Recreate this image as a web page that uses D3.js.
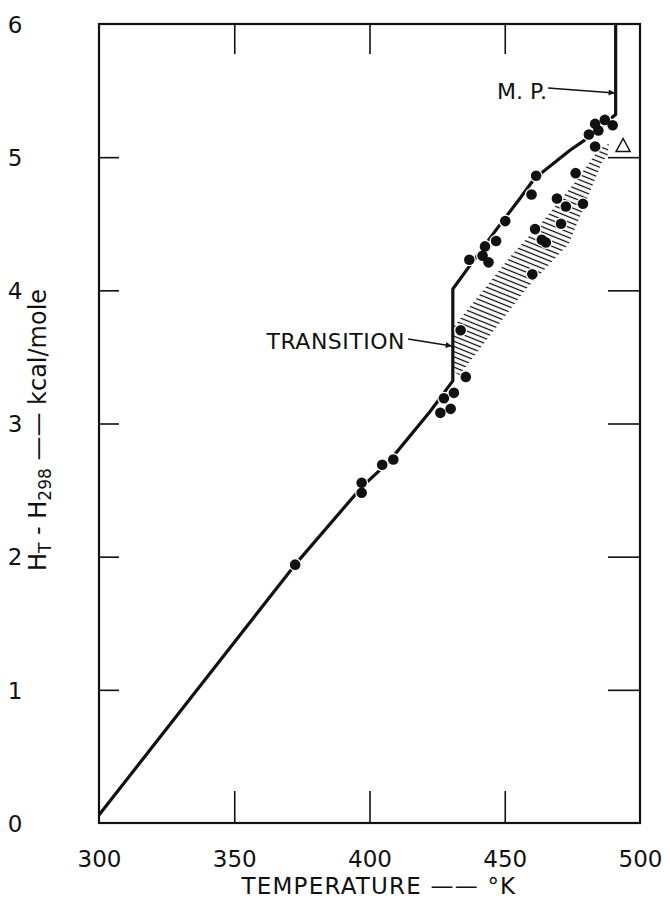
<!DOCTYPE html>
<html><head><meta charset="utf-8">
<script src="https://cdn.jsdelivr.net/npm/d3@7/dist/d3.min.js"></script>
<style>
body{margin:0;background:#fff;}
text{font-family:"DejaVu Sans",sans-serif;fill:#111;}
</style></head>
<body><svg id="c" width="670" height="903"></svg>
<script>
// ---- data ----
const xTicks = [300, 350, 400, 450, 500];
const yTicks = [0, 1, 2, 3, 4, 5, 6];
const pointT = [372.5, 397.1, 397.1, 404.7, 408.8, 426.2, 427.5, 430.0, 431.2, 435.6, 433.7,
  436.9, 441.8, 442.7, 444.0, 446.8, 450.2, 459.9, 461.6, 460.2, 461.2, 463.7, 465.2,
  470.8, 469.3, 472.6, 478.9, 476.2, 483.4, 481.1, 484.6, 483.4, 487.0, 489.9];
const pointH = [1.94, 2.555, 2.48, 2.69, 2.73, 3.08, 3.19, 3.11, 3.23, 3.35, 3.70,
  4.23, 4.26, 4.33, 4.21, 4.37, 4.52, 4.72, 4.86, 4.12, 4.46, 4.38, 4.36,
  4.50, 4.69, 4.63, 4.65, 4.88, 5.08, 5.17, 5.20, 5.25, 5.28, 5.24];
const curveT = [300, 372.5, 397, 407, 422.4, 430.8, 430.8, 436.9, 447, 455.6, 461, 474, 479, 491, 491];
const curveH = [0.06, 1.94, 2.52, 2.71, 3.09, 3.32, 4.01, 4.18, 4.46, 4.69, 4.84, 5.05, 5.12, 5.32, 6];
const hatchT = [430.9, 452.3, 464.9, 476.2, 484.8, 488.5, 488.0, 486.1, 473.7, 457.5, 433.1, 430.9];
const hatchH = [3.72, 4.26, 4.54, 4.82, 5.06, 5.10, 5.01, 4.97, 4.35, 4.00, 3.36, 3.40];
const triT = [490.8], triH = [5.08];

// ---- layout ----
const L = 99, R = 640, T = 24, B = 823;
const svg = d3.select("#c");
const x = d3.scaleLinear().domain([300, 500]).range([L, R]);
const y = d3.scaleLinear().domain([0, 6]).range([B, T]);

// hatch pattern
const defs = svg.append("defs");
const pat = defs.append("pattern").attr("id", "hatch").attr("patternUnits", "userSpaceOnUse")
  .attr("width", 10).attr("height", 4.8).attr("patternTransform", "rotate(22)");
pat.append("line").attr("x1", -1).attr("y1", 2.4).attr("x2", 11).attr("y2", 2.4)
  .attr("stroke", "#000").attr("stroke-width", 1.2);
const hatchPts = hatchT.map((t, i) => [x(t), y(hatchH[i])]);
svg.append("path").attr("d", d3.line()(hatchPts) + "Z").attr("fill", "url(#hatch)");

// axes (inner ticks)
function styleAxis(g) {
  g.selectAll("path.domain").remove();
  g.selectAll(".tick line").attr("stroke", "#111").attr("stroke-width", 1.6);
}
const gl = svg.append("g").attr("transform", `translate(${L},0)`)
  .call(d3.axisLeft(y).tickValues(yTicks).tickSize(-20).tickFormat(d3.format("d")));
styleAxis(gl);
gl.selectAll(".tick text").attr("x", 15 - L).attr("text-anchor", "middle").attr("dy", "0.36em")
  .style("font-size", "23px").style("font-family", "DejaVu Sans");
gl.selectAll(".tick").filter(d => d === 0 || d === 6).select("line").remove();

const gb = svg.append("g").attr("transform", `translate(0,${B})`)
  .call(d3.axisBottom(x).tickValues(xTicks).tickSize(-32).tickFormat(d3.format("d")));
styleAxis(gb);
gb.selectAll(".tick text").attr("y", 36).attr("dy", "0.36em")
  .style("font-size", "23px").style("font-family", "DejaVu Sans");
gb.selectAll(".tick").filter(d => d === 300 || d === 500).select("line").remove();

const gt = svg.append("g").attr("transform", `translate(0,${T})`)
  .call(d3.axisTop(x).tickValues(xTicks.slice(1, 4)).tickSize(-30).tickFormat(""));
styleAxis(gt);
const gr = svg.append("g").attr("transform", `translate(${R},0)`)
  .call(d3.axisRight(y).tickValues(yTicks.slice(1, 6)).tickSize(-32).tickFormat(""));
styleAxis(gr);

// frame
svg.append("rect").attr("x", L).attr("y", T).attr("width", R - L).attr("height", B - T)
  .attr("fill", "none").attr("stroke", "#111").attr("stroke-width", 2.2);

// curve
const curvePts = curveT.map((t, i) => [x(t), y(curveH[i])]);
svg.append("path").attr("d", d3.line()(curvePts)).attr("fill", "none")
  .attr("stroke", "#111").attr("stroke-width", 3.2).attr("stroke-linejoin", "round");

// points with white halo
svg.append("g").selectAll("circle").data(pointT).join("circle")
  .attr("cx", d => x(d)).attr("cy", (d, i) => y(pointH[i])).attr("r", 5.3)
  .attr("fill", "#111").attr("stroke", "#fff").attr("stroke-width", 2.5);
svg.append("g").selectAll("circle").data(pointT).join("circle")
  .attr("cx", d => x(d)).attr("cy", (d, i) => y(pointH[i])).attr("r", 5.3)
  .attr("fill", "#111");

// open triangle
svg.append("g").selectAll("path").data(triT).join("path")
  .attr("d", (d, i) => { const cx = x(d) + 8, cy = y(triH[i]) - 1; return `M${cx},${cy-7}L${cx+7},${cy+6}L${cx-7},${cy+6}Z`; })
  .attr("fill", "none").attr("stroke", "#111").attr("stroke-width", 1.5);

// annotations
defs.append("marker").attr("id", "arr").attr("viewBox", "0 0 10 10").attr("refX", 10).attr("refY", 5)
  .attr("markerWidth", 10).attr("markerHeight", 6).attr("markerUnits", "userSpaceOnUse").attr("orient", "auto")
  .append("path").attr("d", "M0,0L10,5L0,10Z").attr("fill", "#111");
svg.append("text").attr("x", 405).attr("y", 341).attr("dy", "0.36em").attr("text-anchor", "end")
  .style("font-size", "22px").style("letter-spacing", "0.5px").text("TRANSITION");
svg.append("line").attr("x1", 408).attr("y1", 339).attr("x2", x(430.8) - 1).attr("y2", 346)
  .attr("stroke", "#111").attr("stroke-width", 1.4).attr("marker-end", "url(#arr)");
svg.append("text").attr("x", 522).attr("y", 91).attr("dy", "0.36em").attr("text-anchor", "middle")
  .style("font-size", "22px").text("M. P.");
svg.append("line").attr("x1", 548).attr("y1", 88).attr("x2", x(491) - 1).attr("y2", 93)
  .attr("stroke", "#111").attr("stroke-width", 1.4).attr("marker-end", "url(#arr)");

// axis titles
svg.append("text").attr("x", 379).attr("y", 886).attr("dy", "0.36em").attr("text-anchor", "middle")
  .style("font-size", "23px").style("letter-spacing", "1.2px").text("TEMPERATURE —— °K");
const yt = svg.append("text").attr("transform", "translate(37,430) rotate(-90)").attr("text-anchor", "middle")
  .attr("dy", "0.36em").style("font-size", "24px");
yt.append("tspan").text("H");
yt.append("tspan").attr("dy", "5").style("font-size", "17px").text("T");
yt.append("tspan").attr("dy", "-5").text(" - H");
yt.append("tspan").attr("dy", "5").style("font-size", "17px").text("298");
yt.append("tspan").attr("dy", "-5").text(" —— kcal/mole");
</script></body></html>
